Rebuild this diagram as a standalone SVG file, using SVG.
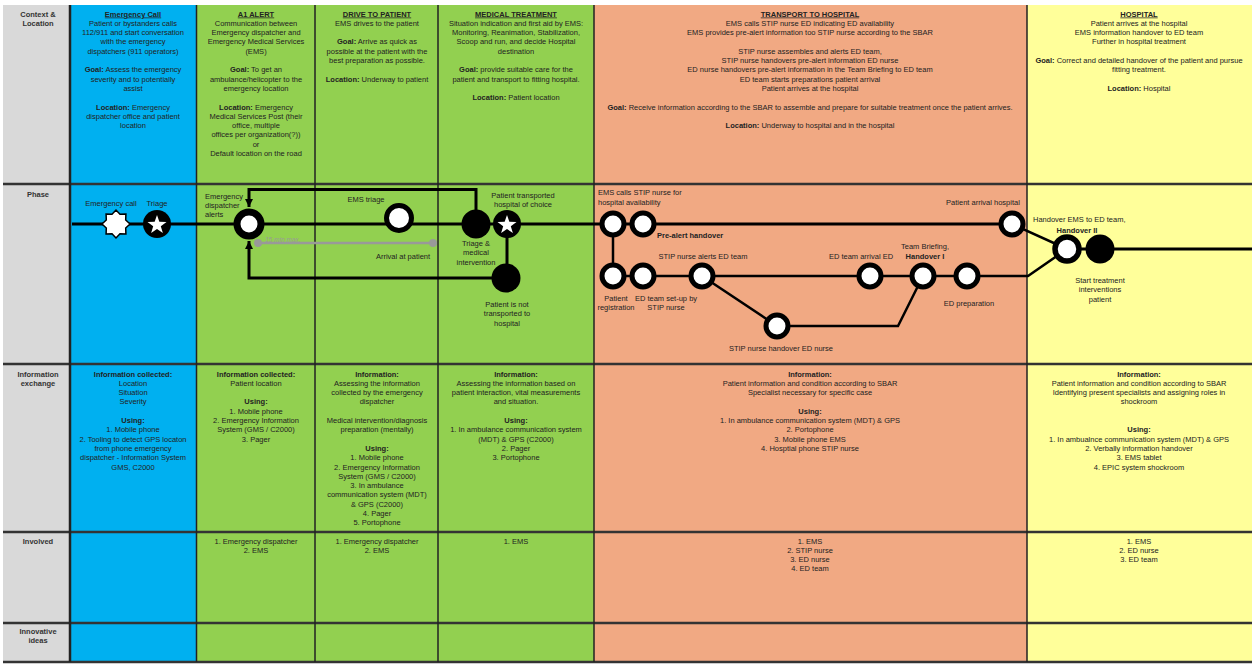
<svg xmlns="http://www.w3.org/2000/svg" xmlns:xlink="http://www.w3.org/1999/xlink" width="1252" height="666" viewBox="0 0 1252 666">
<style>
text{font-family:"Liberation Sans",Arial,sans-serif;font-size:7.5px;fill:#222}
.c{text-anchor:middle}
.b{font-weight:bold}
.u{text-decoration:underline;font-weight:bold}
.lbl{font-weight:bold;text-anchor:middle;fill:#333}
.ring{fill:#fff;stroke:#000;stroke-width:5}
.dot{fill:#000}
.ln{fill:none;stroke:#000;stroke-width:3}
.ln2{fill:none;stroke:#000;stroke-width:2.5}
.hb{stroke:#333;stroke-width:2.5}
.vb{stroke:#222;stroke-width:1.5}
</style>
<defs>
<polygon id="star5" points="0,-10 2.35,-3.24 9.51,-3.09 3.8,1.24 5.88,8.09 0,4 -5.88,8.09 -3.8,1.24 -9.51,-3.09 -2.35,-3.24" fill="#fff"/>
<marker id="arr" viewBox="0 0 10 10" refX="10" refY="5" markerWidth="8" markerHeight="8" markerUnits="userSpaceOnUse" orient="auto"><path d="M0,0 L10,5 L0,10 z" fill="#000"/></marker>
</defs>
<rect width="1252" height="666" fill="#fff"/>
<g id="table">
<rect x="3" y="5" width="67" height="657" fill="#d9d9d9"/>
<rect x="70" y="5" width="126.5" height="657" fill="#00b0f0"/>
<rect x="196.5" y="5" width="397.5" height="657" fill="#92d050"/>
<rect x="594" y="5" width="433" height="657" fill="#f1a983"/>
<rect x="1027" y="5" width="225" height="657" fill="#ffff9a"/>
<line class="hb" x1="3" y1="184" x2="1252" y2="184"/>
<line class="hb" x1="3" y1="364" x2="1252" y2="364"/>
<line class="hb" x1="3" y1="532" x2="1252" y2="532"/>
<line class="hb" x1="3" y1="623" x2="1252" y2="623"/>
<line class="hb" x1="3" y1="662" x2="1252" y2="662"/>
<line x1="70" y1="5" x2="70" y2="662" stroke="#222" stroke-width="2.5"/>
<line class="vb" x1="196.5" y1="5" x2="196.5" y2="662"/>
<line class="vb" x1="315" y1="5" x2="315" y2="662"/>
<line class="vb" x1="438" y1="5" x2="438" y2="662"/>
<line class="vb" x1="594" y1="5" x2="594" y2="662"/>
<line class="vb" x1="1027" y1="5" x2="1027" y2="662"/>
</g>
<g id="row-labels">
<text class="lbl" x="38" y="16.5">Context &amp;<tspan x="38" dy="9.5">Location</tspan></text>
<text class="lbl" x="38" y="196.5">Phase</text>
<text class="lbl" x="38" y="376.5">Information<tspan x="38" dy="9.5">exchange</tspan></text>
<text class="lbl" x="38" y="543.5">Involved</text>
<text class="lbl" x="38" y="634">Innovative<tspan x="38" dy="9.3">ideas</tspan></text>
</g>
<g id="context">
<text class="c" x="133" y="16.5"><tspan class="u">Emergency Call</tspan><tspan x="133" dy="9.3">Patient or bystanders calls</tspan><tspan x="133" dy="9.3">112/911 and start conversation</tspan><tspan x="133" dy="9.3">with the emergency</tspan><tspan x="133" dy="9.3">dispatchers (911 operators)</tspan><tspan x="133" dy="18.6"><tspan class="b">Goal:</tspan> Assess the emergency</tspan><tspan x="133" dy="9.3">severity and to potentially</tspan><tspan x="133" dy="9.3">assist</tspan><tspan x="133" dy="18.6"><tspan class="b">Location:</tspan> Emergency</tspan><tspan x="133" dy="9.3">dispatcher office and patient</tspan><tspan x="133" dy="9.3">location</tspan></text>
<text class="c" x="256" y="16.5"><tspan class="u">A1 ALERT</tspan><tspan x="256" dy="9.3">Communication between</tspan><tspan x="256" dy="9.3">Emergency dispatcher and</tspan><tspan x="256" dy="9.3">Emergency Medical Services</tspan><tspan x="256" dy="9.3">(EMS)</tspan><tspan x="256" dy="18.6"><tspan class="b">Goal:</tspan> To get an</tspan><tspan x="256" dy="9.3">ambulance/helicopter to the</tspan><tspan x="256" dy="9.3">emergency location</tspan><tspan x="256" dy="18.6"><tspan class="b">Location:</tspan> Emergency</tspan><tspan x="256" dy="9.3">Medical Services Post (their</tspan><tspan x="256" dy="9.3">office, multiple</tspan><tspan x="256" dy="9.3">offices per organization(?))</tspan><tspan x="256" dy="9.3">or</tspan><tspan x="256" dy="9.3">Default location on the road</tspan></text>
<text class="c" x="377" y="16.5"><tspan class="u">DRIVE TO PATIENT</tspan><tspan x="377" dy="9.3">EMS drives to the patient</tspan><tspan x="377" dy="18.6"><tspan class="b">Goal:</tspan> Arrive as quick as</tspan><tspan x="377" dy="9.3">possible at the patient with the</tspan><tspan x="377" dy="9.3">best preparation as possible.</tspan><tspan x="377" dy="18.6"><tspan class="b">Location:</tspan> Underway to patient</tspan></text>
<text class="c" x="516" y="16.5"><tspan class="u">MEDICAL TREATMENT</tspan><tspan x="516" dy="9.3">Situation indication and first aid by EMS:</tspan><tspan x="516" dy="9.3">Monitoring, Reanimation, Stabilization,</tspan><tspan x="516" dy="9.3">Scoop and run, and decide Hospital</tspan><tspan x="516" dy="9.3">destination</tspan><tspan x="516" dy="18.6"><tspan class="b">Goal:</tspan> provide suitable care for the</tspan><tspan x="516" dy="9.3">patient and transport to fitting hospital.</tspan><tspan x="516" dy="18.6"><tspan class="b">Location:</tspan> Patient location</tspan></text>
<text class="c" x="810" y="16.5"><tspan class="u">TRANSPORT TO HOSPITAL</tspan><tspan x="810" dy="9.3">EMS calls STIP nurse ED  indicating ED availability</tspan><tspan x="810" dy="9.3">EMS provides pre-alert information too STIP nurse according to the SBAR</tspan><tspan x="810" dy="18.6">STIP nurse assembles and alerts ED team,</tspan><tspan x="810" dy="9.3">STIP nurse handovers pre-alert information ED nurse</tspan><tspan x="810" dy="9.3">ED nurse handovers pre-alert information in the Team Briefing to ED team</tspan><tspan x="810" dy="9.3">ED team starts preparations patient arrival</tspan><tspan x="810" dy="9.3">Patient arrives at the hospital</tspan><tspan x="810" dy="18.6"><tspan class="b">Goal:</tspan> Receive information according to the SBAR to assemble and prepare for suitable treatment once the patient arrives.</tspan><tspan x="810" dy="18.6"><tspan class="b">Location:</tspan> Underway to hospital and in the hospital</tspan></text>
<text class="c" x="1139" y="16.5"><tspan class="u">HOSPITAL</tspan><tspan x="1139" dy="9.3">Patient arrives at the hospital</tspan><tspan x="1139" dy="9.3">EMS information handover to ED team</tspan><tspan x="1139" dy="9.3">Further in hospital treatment</tspan><tspan x="1139" dy="18.6"><tspan class="b">Goal:</tspan> Correct and detailed handover of the patient and pursue</tspan><tspan x="1139" dy="9.3">fitting treatment.</tspan><tspan x="1139" dy="18.6"><tspan class="b">Location:</tspan> Hospital</tspan></text>
</g>
<g id="connectors">
<path class="ln" d="M72,224 H1012"/>
<path class="ln" d="M476,210 V189.5 H249 V207" marker-end="url(#arr)"/>
<path class="ln" d="M492,278 H249 V241" marker-end="url(#arr)"/>
<path class="ln" d="M507,224 V278"/>
<line x1="258" y1="243" x2="433" y2="243" stroke="#999" stroke-width="2.5"/>
<circle cx="258" cy="243" r="4" fill="#999"/>
<text x="265" y="241.5" style="font-size:6.5px;font-style:italic;fill:#999">15 min max.</text>
<path class="ln2" d="M613,224 V276"/>
<path class="ln2" d="M613,276 H1028 L1067,249"/>
<path class="ln2" d="M702,276 L777,326 H898 L923,276"/>
<path class="ln2" d="M1012,224 L1067,249"/>
<path class="ln" d="M1067,249 H1252"/>
</g>
<g id="n-emergency-call">
<polygon points="130,224 125.7,228 125.9,233.9 120,233.7 116,238 112,233.7 106.1,233.9 106.3,228 102,224 106.3,220 106.1,214.1 112,214.3 116,210 120,214.3 125.9,214.1 125.7,220" fill="#fff" stroke="#000" stroke-width="1.5"/>
<text class="c" x="111" y="205.5">Emergency call</text>
</g>
<g id="n-triage">
<circle cx="157" cy="224" r="14" class="dot"/>
<use xlink:href="#star5" href="#star5" x="157" y="225"/>
<text class="c" x="157" y="205.5">Triage</text>
</g>
<g id="n-dispatcher-alerts">
<circle cx="249" cy="224" r="12" fill="#fff" stroke="#000" stroke-width="7"/>
<text x="205" y="198.5">Emergency<tspan x="205" dy="9">dispatcher</tspan><tspan x="205" dy="9">alerts</tspan></text>
</g>
<g id="n-ems-triage">
<circle cx="399" cy="218" r="12.5" class="ring"/>
<text class="c" x="366" y="201.5">EMS triage</text>
</g>
<g id="n-arrival">
<circle cx="433" cy="243" r="4" fill="#999"/>
<text class="c" x="403" y="258.5">Arrival at patient</text>
</g>
<g id="n-triage-medical">
<circle cx="476" cy="224" r="14.5" class="dot"/>
<text class="c" x="476" y="245.5">Triage &amp;<tspan x="476" dy="9.5">medical</tspan><tspan x="476" dy="9.5">intervention</tspan></text>
</g>
<g id="n-transported">
<circle cx="507" cy="224" r="14" class="dot"/>
<use xlink:href="#star5" href="#star5" x="507" y="225"/>
<text class="c" x="523" y="197.5">Patient transported<tspan x="523" dy="9.5">hospital of choice</tspan></text>
</g>
<g id="n-not-transported">
<circle cx="506" cy="278" r="14.5" class="dot"/>
<text class="c" x="507" y="306.5">Patient is not<tspan x="507" dy="9.5">transported to</tspan><tspan x="507" dy="9.5">hospital</tspan></text>
</g>
<g id="n-ems-calls">
<circle cx="613" cy="224" r="11" class="ring"/>
<text x="598" y="194.5">EMS calls STIP nurse for<tspan x="598" dy="10">hospital availability</tspan></text>
</g>
<g id="n-prealert">
<circle cx="643" cy="224" r="11" class="ring"/>
<text class="b" x="657" y="237.5">Pre-alert handover</text>
</g>
<g id="n-registration">
<circle cx="613" cy="276" r="11" class="ring"/>
<text class="c" x="616" y="300.5">Patient<tspan x="616" dy="9.5">registration</tspan></text>
</g>
<g id="n-setup">
<circle cx="643" cy="276" r="11" class="ring"/>
<text class="c" x="666" y="300.5">ED team set-up by<tspan x="666" dy="9.5">STIP nurse</tspan></text>
</g>
<g id="n-alerts-ed">
<circle cx="702" cy="276" r="11" class="ring"/>
<text class="c" x="703" y="258.5">STIP nurse alerts ED team</text>
</g>
<g id="n-stip-handover">
<circle cx="777" cy="326" r="11" class="ring"/>
<text class="c" x="781" y="350.5">STIP nurse handover ED nurse</text>
</g>
<g id="n-ed-arrival">
<circle cx="870" cy="276" r="11" class="ring"/>
<text class="c" x="861" y="258.5">ED team arrival ED</text>
</g>
<g id="n-team-briefing">
<circle cx="923" cy="276" r="11" class="ring"/>
<text class="c" x="925" y="248.5">Team Briefing,<tspan class="b" x="925" dy="10">Handover I</tspan></text>
</g>
<g id="n-ed-prep">
<circle cx="967" cy="276" r="11" class="ring"/>
<text class="c" x="969" y="305.5">ED preparation</text>
</g>
<g id="n-patient-arrival">
<circle cx="1012" cy="224" r="11" class="ring"/>
<text class="c" x="983" y="204.5">Patient arrival hospital</text>
</g>
<g id="n-handover2">
<circle cx="1067" cy="249" r="12" fill="#fff" stroke="#000" stroke-width="5.5"/>
<text x="1033" y="221.5">Handover EMS to ED team,</text>
<text class="c b" x="1077" y="232.5">Handover II</text>
</g>
<g id="n-start-treatment">
<circle cx="1100" cy="249" r="14.5" class="dot"/>
<text class="c" x="1100" y="282.5">Start treatment<tspan x="1100" dy="9.5">interventions</tspan><tspan x="1100" dy="9.5">patient</tspan></text>
</g>
<g id="information">
<text class="c" x="133" y="376.5"><tspan class="b">Information collected:</tspan><tspan x="133" dy="9.3">Location</tspan><tspan x="133" dy="9.3">Situation</tspan><tspan x="133" dy="9.3">Severity</tspan><tspan class="b" x="133" dy="18.6">Using:</tspan><tspan x="133" dy="9.3">1. Mobile phone</tspan><tspan x="133" dy="9.3">2. Tooling to detect GPS locaton</tspan><tspan x="133" dy="9.3">from phone emergency</tspan><tspan x="133" dy="9.3">dispatcher - Information System</tspan><tspan x="133" dy="9.3">GMS, C2000</tspan></text>
<text class="c" x="256" y="376.5"><tspan class="b">Information collected:</tspan><tspan x="256" dy="9.3">Patient location</tspan><tspan class="b" x="256" dy="18.6">Using:</tspan><tspan x="256" dy="9.3">1. Mobile phone</tspan><tspan x="256" dy="9.3">2. Emergency Information</tspan><tspan x="256" dy="9.3">System (GMS / C2000)</tspan><tspan x="256" dy="9.3">3. Pager</tspan></text>
<text class="c" x="377" y="376.5"><tspan class="b">Information:</tspan><tspan x="377" dy="9.3">Assessing the information</tspan><tspan x="377" dy="9.3">collected by the emergency</tspan><tspan x="377" dy="9.3">dispatcher</tspan><tspan x="377" dy="18.6">Medical intervention/diagnosis</tspan><tspan x="377" dy="9.3">preparation (mentally)</tspan><tspan class="b" x="377" dy="18.6">Using:</tspan><tspan x="377" dy="9.3">1. Mobile phone</tspan><tspan x="377" dy="9.3">2. Emergency Information</tspan><tspan x="377" dy="9.3">System (GMS / C2000)</tspan><tspan x="377" dy="9.3">3.  In  ambulance</tspan><tspan x="377" dy="9.3">communication system (MDT)</tspan><tspan x="377" dy="9.3">&amp; GPS (C2000)</tspan><tspan x="377" dy="9.3">4. Pager</tspan><tspan x="377" dy="9.3">5. Portophone</tspan></text>
<text class="c" x="516" y="376.5"><tspan class="b">Information:</tspan><tspan x="516" dy="9.3">Assessing the information based on</tspan><tspan x="516" dy="9.3">patient interaction, vital measurements</tspan><tspan x="516" dy="9.3">and situation.</tspan><tspan class="b" x="516" dy="18.6">Using:</tspan><tspan x="516" dy="9.3">1. In ambulance communication system</tspan><tspan x="516" dy="9.3">(MDT) &amp; GPS (C2000)</tspan><tspan x="516" dy="9.3">2. Pager</tspan><tspan x="516" dy="9.3">3. Portophone</tspan></text>
<text class="c" x="810" y="376.5"><tspan class="b">Information:</tspan><tspan x="810" dy="9.3">Patient information and condition according to SBAR</tspan><tspan x="810" dy="9.3">Specialist necessary for specific case</tspan><tspan class="b" x="810" dy="18.6">Using:</tspan><tspan x="810" dy="9.3">1. In ambulance communication system (MDT) &amp; GPS</tspan><tspan x="810" dy="9.3">2. Portophone</tspan><tspan x="810" dy="9.3">3. Mobile phone EMS</tspan><tspan x="810" dy="9.3">4. Hosptial phone STIP nurse</tspan></text>
<text class="c" x="1139" y="376.5"><tspan class="b">Information:</tspan><tspan x="1139" dy="9.3">Patient information and condition according to SBAR</tspan><tspan x="1139" dy="9.3">Identifying present specialists and assigning roles  in</tspan><tspan x="1139" dy="9.3">shockroom</tspan><tspan class="b" x="1139" dy="27.9">Using:</tspan><tspan x="1139" dy="9.3">1. In ambualnce communication system (MDT) &amp; GPS</tspan><tspan x="1139" dy="9.3">2. Verbally information handover</tspan><tspan x="1139" dy="9.3">3. EMS tablet</tspan><tspan x="1139" dy="9.3">4. EPIC system shockroom</tspan></text>
</g>
<g id="involved">
<text class="c" x="256" y="543.5">1. Emergency dispatcher<tspan x="256" dy="9.3">2. EMS</tspan></text>
<text class="c" x="377" y="543.5">1. Emergency dispatcher<tspan x="377" dy="9.3">2. EMS</tspan></text>
<text class="c" x="516" y="543.5">1. EMS</text>
<text class="c" x="810" y="543.5">1. EMS<tspan x="810" dy="9.3">2. STIP nurse</tspan><tspan x="810" dy="9.3">3. ED nurse</tspan><tspan x="810" dy="9.3">4. ED team</tspan></text>
<text class="c" x="1139" y="543.5">1. EMS<tspan x="1139" dy="9.3">2. ED nurse</tspan><tspan x="1139" dy="9.3">3. ED team</tspan></text>
</g>
</svg>
